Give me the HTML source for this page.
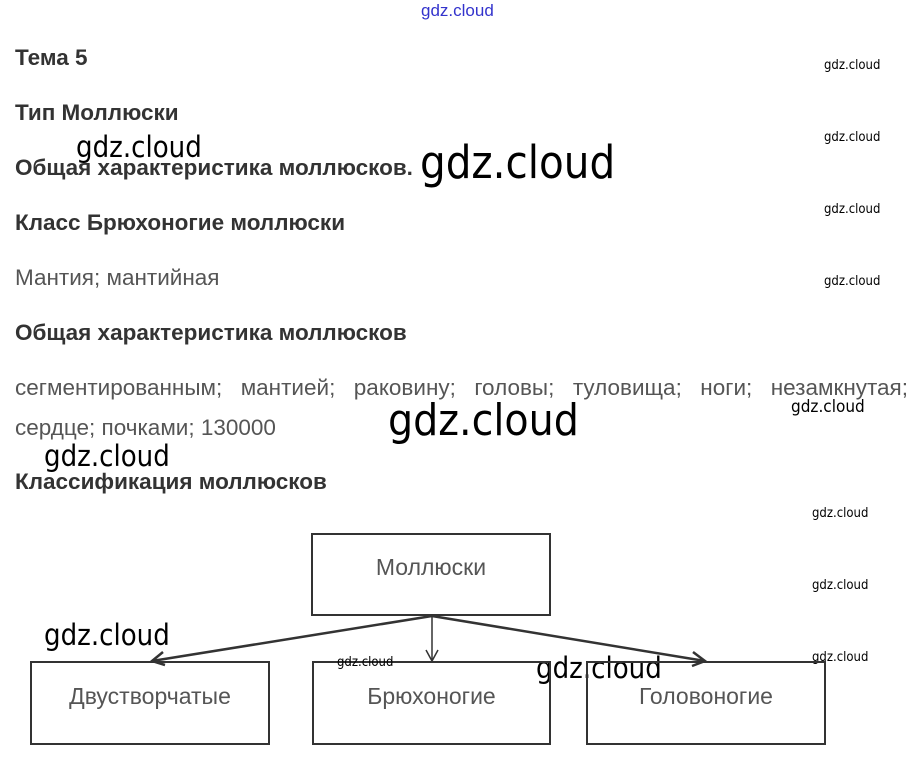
<!DOCTYPE html>
<html><head><meta charset="utf-8"><style>
body{margin:0;width:916px;height:761px;background:#fff;position:relative;overflow:hidden;font-family:"Liberation Sans","Noto Sans CJK SC",sans-serif}
.a{position:absolute;white-space:nowrap}
.h{font-weight:bold;font-size:22.5px;color:#333}
.t{font-size:22.5px;color:#555}
.w{color:#000;font-family:"DejaVu Sans Condensed","Liberation Sans",sans-serif}
.s{font-size:13px}
.m{font-size:29px}
.b{position:absolute;border:2px solid #333;box-sizing:border-box;display:flex;align-items:center;justify-content:center;font-size:23px;color:#555;padding-bottom:14px}
</style></head><body>
<div class="a" style="left:421px;top:1px;font-size:17px;color:#33c">gdz.cloud</div>
<div class="a h" style="left:15px;top:45px">Тема 5</div>
<div class="a h" style="left:15px;top:100px">Тип Моллюски</div>
<div class="a h" style="left:15px;top:155px">Общая характеристика моллюсков.</div>
<div class="a h" style="left:15px;top:210px">Класс Брюхоногие моллюски</div>
<div class="a t" style="left:15px;top:265px">Мантия; мантийная</div>
<div class="a h" style="left:15px;top:320px">Общая характеристика моллюсков</div>
<div class="a t" style="left:15px;top:375px;width:893px;text-align:justify;text-align-last:justify">сегментированным; мантией; раковину; головы; туловища; ноги; незамкнутая;</div>
<div class="a t" style="left:15px;top:415px">сердце; почками; 130000</div>
<div class="a h" style="left:15px;top:469px">Классификация моллюсков</div>
<div class="a w m" style="left:76px;top:130px">gdz.cloud</div>
<div class="a w" style="left:420px;top:136px;font-size:45px">gdz.cloud</div>
<div class="a w" style="left:388px;top:395px;font-size:44px">gdz.cloud</div>
<div class="a w m" style="left:44px;top:439px">gdz.cloud</div>
<div class="a w m" style="left:44px;top:618px">gdz.cloud</div>
<div class="a w m" style="left:536px;top:651px">gdz.cloud</div>
<div class="a w" style="left:791px;top:397px;font-size:17px">gdz.cloud</div>
<div class="a w s" style="left:824px;top:58px">gdz.cloud</div>
<div class="a w s" style="left:824px;top:130px">gdz.cloud</div>
<div class="a w s" style="left:824px;top:202px">gdz.cloud</div>
<div class="a w s" style="left:824px;top:274px">gdz.cloud</div>
<div class="a w s" style="left:812px;top:506px">gdz.cloud</div>
<div class="a w s" style="left:812px;top:578px">gdz.cloud</div>
<div class="a w s" style="left:812px;top:650px">gdz.cloud</div>
<div class="b" style="left:311px;top:533px;width:240px;height:83px">Моллюски</div>
<div class="b" style="left:30px;top:661px;width:240px;height:84px">Двустворчатые</div>
<div class="b" style="left:312px;top:661px;width:239px;height:84px">Брюхоногие</div>
<div class="b" style="left:586px;top:661px;width:240px;height:84px">Головоногие</div>
<svg class="a" style="left:0;top:0" width="916" height="761">
<g stroke="#333" stroke-width="2.5" fill="none">
<line x1="432" y1="616" x2="152" y2="661"/>
<line x1="432" y1="616" x2="705" y2="661"/>
<line x1="432" y1="616" x2="432" y2="660" stroke-width="1.5"/>
<polyline points="163,652 152,661 165,665"/>
<polyline points="693,652 705,661 692,666"/>
<polyline points="426,650 432,661 438,650" stroke-width="1.5"/>
</g></svg>
<div class="a w s" style="left:337px;top:655px">gdz.cloud</div>
</body></html>
